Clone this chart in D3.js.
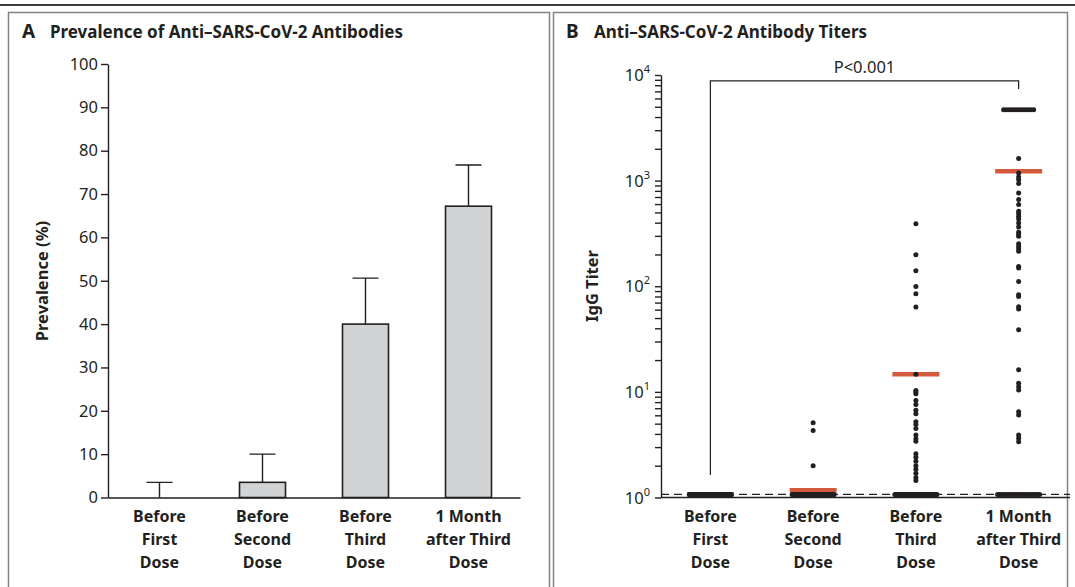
<!DOCTYPE html>
<meta charset="utf-8">
<style>
body { margin: 0; background: #fff; }
text { font-family: "Noto Sans", sans-serif; fill: #231f20; }
.axis .domain, .axis .tick line { stroke: #231f20; stroke-width: 1.4; }
.axis text { font-size: 16.5px; font-family: "Noto Sans", sans-serif; fill: #231f20; }
.xlab { font-weight: bold; font-size: 16px; text-anchor: middle; }
</style>
<body>
<script src="https://d3js.org/d3.v7.min.js"></script>
<script>

// categories
var doses = ["Before First Dose", "Before Second Dose", "Before Third Dose", "1 Month after Third Dose"];
var doseLines = [["Before", "First", "Dose"], ["Before", "Second", "Dose"], ["Before", "Third", "Dose"], ["1 Month", "after Third", "Dose"]];

// panel A - prevalence (%)
var prevalence = [0, 3.5, 40, 67.2];
var prevalenceUpper = [3.5, 10, 50.6, 76.7];
var prevTicks = [0, 10, 20, 30, 40, 50, 60, 70, 80, 90, 100];

// panel B - IgG titers
var titerTicks = [1, 10, 100, 1000, 10000];
var cutoffTiter = 1.07;          // dashed line, values at/below sit on it
var baselineCount = [101, 97, 59, 21];
var ceilingTiter = 4700;
var ceilingCount = [0, 0, 0, 12];
var titers = [
  [],
  [5.1, 4.3, 2.0],
  [391, 199, 140, 99.6, 85, 63.5, 14.7, 10.3, 10.0, 9.6, 8.3, 7.6, 6.7, 6.2, 5.2, 4.9, 4.5, 3.9, 3.6, 3.4,
   2.6, 2.4, 2.2, 2.0, 1.85, 1.7, 1.55, 1.45],
  [1617, 1183, 1084, 1022, 937, 764, 661, 593, 512, 487, 459, 434, 397, 364, 324, 308, 297, 253, 238, 225,
   214, 154, 149, 111, 83, 80, 64, 61, 38.7, 16.2, 12.1, 11.2, 10.4, 6.5, 6.05, 3.91, 3.64, 3.38]
];
var medianTiter = [1.07, 1.17, 14.7, 1230];
var bracketTiter = [1.63, 8790, 7380];   // left foot, top, right foot

var svg = d3.select("body").append("svg")
    .attr("width", 1075)
    .attr("height", 587);

// frame
svg.append("line").attr("x1", 0).attr("x2", 1075).attr("y1", 5).attr("y2", 5)
    .attr("stroke", "#3b3b3b").attr("stroke-width", 2);
svg.append("rect").attr("x", 8.5).attr("y", 12.5).attr("width", 541).attr("height", 600)
    .attr("fill", "none").attr("stroke", "#808285").attr("stroke-width", 1.5);
svg.append("rect").attr("x", 553.5).attr("y", 12.5).attr("width", 514).attr("height", 600)
    .attr("fill", "none").attr("stroke", "#808285").attr("stroke-width", 1.5);

// titles
function title(x, letter, txt) {
  svg.append("text").attr("x", x).attr("y", 38).attr("font-weight", "bold").attr("font-size", 19).text(letter);
  svg.append("text").attr("x", x + 28).attr("y", 38).attr("font-weight", "bold").attr("font-size", 17).text(txt);
}
title(22, "A", "Prevalence of Anti\u2013SARS-CoV-2 Antibodies");
title(566, "B", "Anti\u2013SARS-CoV-2 Antibody Titers");

function xLabels(g, x, y0) {
  doses.forEach(function(d, i) {
    var t = g.append("text").attr("class", "xlab");
    doseLines[i].forEach(function(s, k) {
      t.append("tspan").attr("x", x(d)).attr("y", y0 + k * 23).text(s);
    });
  });
}

// ---------- panel A ----------
var xA = d3.scalePoint().domain(doses).range([108, 520]).padding(0.5);
var yA = d3.scaleLinear().domain([0, 100]).range([497.5, 64]);
var gA = svg.append("g");

gA.append("g").attr("class", "axis")
    .attr("transform", "translate(0," + yA(0) + ")")
    .call(d3.axisBottom(xA).tickSize(0).tickSizeOuter(0).tickFormat(""));

var bw = 46;
// error bars
gA.selectAll(".err").data(doses).enter().append("path")
    .attr("fill", "none").attr("stroke", "#231f20").attr("stroke-width", 1.4)
    .attr("d", function(d, i) {
      var cx = xA(d);
      return "M" + cx + "," + yA(prevalence[i]) + "V" + yA(prevalenceUpper[i]) +
             "M" + (cx - 13) + "," + yA(prevalenceUpper[i]) + "H" + (cx + 13);
    });
gA.selectAll(".bar").data(doses.filter(function(d, i) { return prevalence[i] > 0; })).enter().append("rect")
    .attr("x", function(d) { return xA(d) - bw / 2; })
    .attr("width", bw)
    .attr("y", function(d) { return yA(prevalence[doses.indexOf(d)]); })
    .attr("height", function(d) { return yA(0) - yA(prevalence[doses.indexOf(d)]); })
    .attr("fill", "#d1d3d4").attr("stroke", "#231f20").attr("stroke-width", 1.6);

gA.append("g").attr("class", "axis")
    .attr("transform", "translate(108,0)")
    .call(d3.axisLeft(yA).tickValues(prevTicks).tickSize(7).tickSizeOuter(0).tickPadding(3));

gA.append("text").attr("transform", "translate(48,281) rotate(-90)")
    .attr("text-anchor", "middle").attr("font-weight", "bold").attr("font-size", 16.5)
    .text("Prevalence (%)");
xLabels(gA, xA, 522);

// ---------- panel B ----------
var xB = d3.scalePoint().domain(doses).range([659, 1070]).padding(0.5);
var yB = d3.scaleLog().domain([1, 10000]).range([497.5, 75]);
var gB = svg.append("g");

gB.append("g").attr("class", "axis")
    .attr("transform", "translate(0," + yB(1) + ")")
    .call(d3.axisBottom(xB).tickSize(0).tickSizeOuter(0).tickFormat(""))
    .select(".domain").attr("d", "M661,0H1070");

gB.append("line")
    .attr("x1", 661).attr("x2", 1070)
    .attr("y1", yB(cutoffTiter)).attr("y2", yB(cutoffTiter))
    .attr("stroke", "#231f20").attr("stroke-width", 1.3).attr("stroke-dasharray", "8,5");

// bracket + P value
gB.append("path").attr("fill", "none").attr("stroke", "#231f20").attr("stroke-width", 1.2)
    .attr("d", "M" + xB(doses[0]) + "," + yB(bracketTiter[0]) + "V" + yB(bracketTiter[1]) +
               "H" + xB(doses[3]) + "V" + yB(bracketTiter[2]));
gB.append("text").attr("x", (xB(doses[0]) + xB(doses[3])) / 2).attr("y", yB(bracketTiter[1]) - 8)
    .attr("text-anchor", "middle").attr("font-size", 16.5).text("P<0.001");

// medians
gB.selectAll(".med").data(doses).enter().append("line")
    .attr("x1", function(d) { return xB(d) - 23.5; })
    .attr("x2", function(d) { return xB(d) + 23.5; })
    .attr("y1", function(d, i) { return yB(medianTiter[i]); })
    .attr("y2", function(d, i) { return yB(medianTiter[i]); })
    .attr("stroke", "#d35a3c").attr("stroke-width", 4.5);

// dots
var pts = [];
doses.forEach(function(d, i) {
  var n = baselineCount[i];
  for (var j = 0; j < n; j++) pts.push({ x: xB(d) + (j / (n - 1) - 0.5) * 42, v: cutoffTiter });
  var m = ceilingCount[i];
  for (var j = 0; j < m; j++) pts.push({ x: xB(d) + (j / (m - 1) - 0.5) * 30, v: ceilingTiter });
  titers[i].forEach(function(v) { pts.push({ x: xB(d), v: v }); });
});
gB.selectAll(".dot").data(pts).enter().append("circle")
    .attr("cx", function(p) { return p.x; })
    .attr("cy", function(p) { return yB(p.v); })
    .attr("r", 2.5)
    .attr("fill", "#231f20");

var axB = gB.append("g").attr("class", "axis")
    .attr("transform", "translate(661,0)")
    .call(d3.axisLeft(yB).tickValues(yB.ticks()).tickSize(6).tickSizeOuter(0).tickFormat(""));
titerTicks.forEach(function(t) {
  var lab = axB.append("text").attr("x", -11).attr("y", yB(t) + 6).attr("text-anchor", "end");
  lab.append("tspan").text("10");
  lab.append("tspan").attr("dy", -8).attr("font-size", 11).text(Math.round(Math.log10(t)));
});

gB.append("text").attr("transform", "translate(598,286) rotate(-90)")
    .attr("text-anchor", "middle").attr("font-weight", "bold").attr("font-size", 16.5)
    .text("IgG Titer");
xLabels(gB, xB, 522);

</script>
</body>
